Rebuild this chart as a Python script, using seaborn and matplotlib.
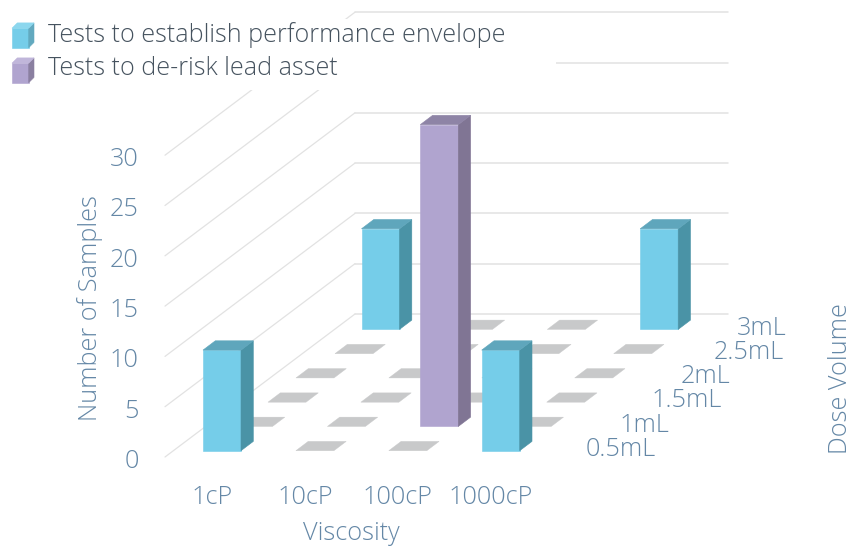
import matplotlib
matplotlib.use("Agg")
import matplotlib.pyplot as plt
from matplotlib.patches import Rectangle
import seaborn as sns

# Chart content
viscosities = ["1cP", "10cP", "100cP", "1000cP"]
dose_volumes = ["0.5mL", "1mL", "1.5mL", "2mL", "2.5mL", "3mL"]
value_ticks = [0, 5, 10, 15, 20, 25, 30]
series_names = ["Tests to establish performance envelope", "Tests to de-risk lead asset"]
# One row per dose volume, one column per viscosity
envelope_samples = [
    [10, 0, 0, 10],
    [0, 0, 0, 0],
    [0, 0, 0, 0],
    [0, 0, 0, 0],
    [0, 0, 0, 0],
    [10, 0, 0, 10],
]
derisk_samples = [
    [0, 0, 0, 0],
    [0, 0, 30, 0],
    [0, 0, 0, 0],
    [0, 0, 0, 0],
    [0, 0, 0, 0],
    [0, 0, 0, 0],
]

# Oblique projection settings, in figure pixels
FLOOR_X, FLOOR_Y = 165.0, 457.0
WALL_DX, WALL_DY = 190.0, -143.0
WALL_WIDTH = 373.0
UNIT = 10.06
CELL_W = 92.9
BAR_W, BAR_DX, BAR_DY = 38.0, 12.3, -9.3
FIRST_BAR_X, FIRST_BAR_Y = 203.0, 450.7
ROW_DY = -24.26
ROW_SHIFT = [0, 31.5, 65, 93, 132, 158.5]

# Faces: front, side, top
BLUE = sns.color_palette(["#75CDE9", "#4A93A6", "#5FA6BC"])
PURPLE = sns.color_palette(["#B0A4CF", "#807594", "#8E84A6"])
SLAB = "#C8C9CA"
GRID = "#E2E2E2"
TICK_COLOR = "#6487A6"
LEGEND_TEXT = "#46535F"
FONT_SIZE = 18.2

sns.set_theme(style="white")
plt.rcParams["font.family"] = ["Open Sans", "DejaVu Sans"]

fig = plt.figure(figsize=(8.64, 5.46), dpi=100, facecolor="white")
ax = fig.add_axes([0, 0, 1, 1])
ax.set_xlim(0, 864)
ax.set_ylim(546, 0)
ax.axis("off")


def draw_box(x, y, w, dx, dy, height, faces, zorder):
    """Front, side and top faces of a box whose front-bottom-left corner is (x, y)."""
    top = y - height
    ax.fill([x, x + w, x + w, x], [y, y, top, top], color=faces[0], lw=0.4, zorder=zorder)
    ax.fill([x + w, x + w + dx, x + w + dx, x + w], [y, y + dy, top + dy, top],
            color=faces[1], lw=0.4, zorder=zorder)
    ax.fill([x, x + w, x + w + dx, x + dx], [top, top, top + dy, top + dy],
            color=faces[2], lw=0.4, zorder=zorder)


# Walls
for v in value_ticks:
    y0 = FLOOR_Y - v * UNIT
    ax.plot([FLOOR_X, FLOOR_X + WALL_DX], [y0, y0 + WALL_DY], color=GRID, lw=0.9, zorder=1)
    ax.plot([FLOOR_X + WALL_DX, FLOOR_X + WALL_DX + WALL_WIDTH], [y0 + WALL_DY, y0 + WALL_DY],
            color=GRID, lw=1.1, zorder=1)

# The legend sits on a white panel that hides the gridlines behind it
ax.add_patch(Rectangle((0, 19), 556, 71, color="white", lw=0, zorder=2))

# Bars, painted from the back row forward
order = 10
for d in reversed(range(len(dose_volumes))):
    row_x = FIRST_BAR_X + ROW_SHIFT[d]
    row_y = FIRST_BAR_Y + d * ROW_DY
    for c in range(len(viscosities)):
        x = row_x + c * CELL_W
        env, der = envelope_samples[d][c], derisk_samples[d][c]
        order += 1
        if env > 0:
            draw_box(x, row_y, BAR_W, BAR_DX, BAR_DY, env * UNIT, BLUE, order)
        elif der > 0:
            draw_box(x, row_y, BAR_W, BAR_DX, BAR_DY, der * UNIT, PURPLE, order)
        else:
            ax.fill([x, x + BAR_W, x + BAR_W + BAR_DX, x + BAR_DX],
                    [row_y, row_y, row_y + BAR_DY, row_y + BAR_DY],
                    color=SLAB, lw=0.3, zorder=order)

# Value axis
for v in value_ticks:
    ax.text(138.5, FLOOR_Y - v * UNIT + 4.5, str(v), ha="right", va="center", fontsize=FONT_SIZE,
            fontweight="light", color=TICK_COLOR, zorder=60)

# Viscosity axis
for c, name in enumerate(viscosities):
    ax.text(212 + c * CELL_W, 497, name, ha="center", va="center", fontsize=FONT_SIZE,
            fontweight="light", color=TICK_COLOR, zorder=60)

# Dose volume axis
dose_label_x = [586, 619, 651, 681, 714, 737]
for d, name in enumerate(dose_volumes):
    ax.text(dose_label_x[d], 449.5 + d * ROW_DY, name, ha="left", va="center", fontsize=FONT_SIZE,
            fontweight="light", color=TICK_COLOR, zorder=60)

ax.text(90, 308, "Number of Samples", rotation=90, ha="center", va="center", fontsize=FONT_SIZE,
        fontweight="light", color=TICK_COLOR, zorder=60)
ax.text(351, 539.5, "Viscosity", ha="center", va="baseline", fontsize=FONT_SIZE,
        fontweight="light", color=TICK_COLOR, zorder=60)
ax.text(840.5, 379, "Dose Volume", rotation=90, ha="center", va="center", fontsize=FONT_SIZE,
        fontweight="light", color=TICK_COLOR, zorder=60)

# Legend
legend_rows = [(47.7, 42.3, ["#75CDE9", "#62A9BF", "#8CD7EE"]),
               (82.7, 75, ["#B0A4CF", "#8A7FA0", "#C0B6DA"])]
for (y, baseline, faces), name in zip(legend_rows, series_names):
    draw_box(12, y, 16.7, 5.3, -5.3, 19.5, faces, 70)
    ax.text(48, baseline, name, ha="left", va="baseline", fontsize=18.1, fontweight="light",
            color=LEGEND_TEXT, zorder=70)

fig.savefig("out.png", dpi=100)
